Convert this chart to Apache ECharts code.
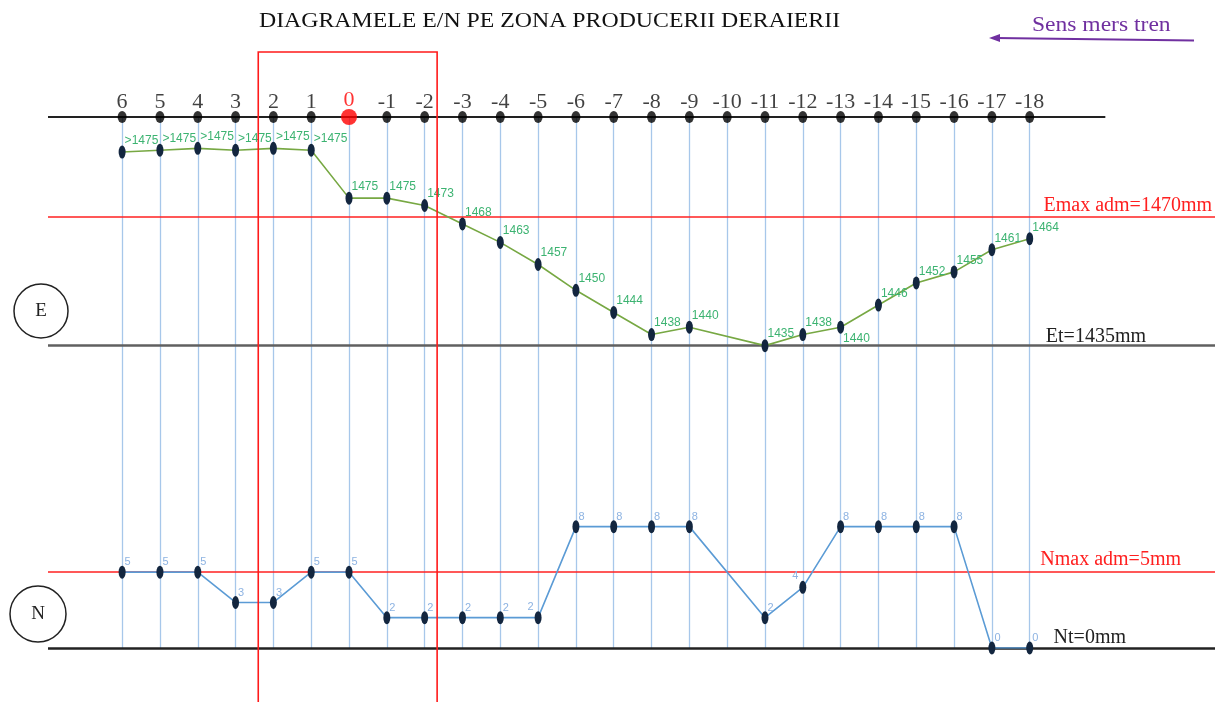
<!DOCTYPE html>
<html>
<head>
<meta charset="utf-8">
<script src="https://cdn.jsdelivr.net/npm/echarts@6/dist/echarts.min.js"></script>
<style>
html,body{margin:0;padding:0;background:#fff;}
#main{width:1227px;height:702px;}
</style>
</head>
<body>
<div id="main"></div>
<script>
// ---- data ----
const stations = ['6','5','4','3','2','1','0','-1','-2','-3','-4','-5','-6','-7','-8','-9','-10','-11','-12','-13','-14','-15','-16','-17','-18'];
// E (gauge, mm); '>1475' points drawn at their estimated height
const eValues = [1487.5,1488,1488.5,1488,1488.5,1488,1475,1475,1473,1468,1463,1457,1450,1444,1438,1440,null,1435,1438,1440,1446,1452,1455,1461,1464];
const eLabels = ['>1475','>1475','>1475','>1475','>1475','>1475','1475','1475','1473','1468','1463','1457','1450','1444','1438','1440','','1435','1438','1440','1446','1452','1455','1461','1464'];
// N (level, mm)
const nValues = [5,5,5,3,3,5,5,2,2,2,2,2,8,8,8,8,null,2,4,8,8,8,8,0,0];
const eMaxAdm = 1470, eNominal = 1435;
const nMaxAdm = 5, nNominal = 0;
const titleText = 'DIAGRAMELE E/N PE ZONA PRODUCERII DERAIERII';
const directionText = 'Sens mers tren';

// ---- chart ----
const chart = echarts.init(document.getElementById('main'));
const serif = '"Liberation Serif", "DejaVu Serif", serif';
const sans = '"Liberation Sans", "DejaVu Sans", sans-serif';
const X_MIN = -1.96, X_MAX = 28.9, E_MIN = 1353, E_MAX = 1497, N_MIN = 0, N_MAX = 35;
const TOP_LINE_END = 26;

const eData = eValues.map((v, i) => {
  const item = { value: [i, v] };
  if (stations[i] === '-13') item.label = { position: [6, 12] };
  return item;
});
const nData = nValues.map((v, i) => {
  const item = { value: [i, v] };
  if (stations[i] === '-12' || stations[i] === '-5') item.label = { position: [-1, -10], align: 'right' };
  return item;
});
const stationData = stations.map((s, i) => {
  const it = { value: [i, E_MAX], name: s };
  if (s === '0') {
    it.symbolSize = 16;
    it.itemStyle = { color: '#ff0000' };
    it.label = { color: '#ff0000' };
  }
  return it;
});

const verticalLines = stations.map((s, i) => ({ xAxis: i }));

const option = {
  backgroundColor: '#ffffff',
  animation: false,
  grid: { left: 48, right: 12, top: 117, bottom: 54 },
  xAxis: { type: 'value', min: X_MIN, max: X_MAX, show: false },
  yAxis: [
    { type: 'value', min: E_MIN, max: E_MAX, show: false },
    { type: 'value', min: N_MIN, max: N_MAX, show: false }
  ],
  series: [
    {
      name: 'stations', type: 'scatter', yAxisIndex: 0, z: 5, clip: false,
      symbol: 'circle', symbolSize: [9, 12],
      itemStyle: { color: '#000' },
      label: { show: true, position: 'top', distance: -2, formatter: p => p.name,
        fontFamily: serif, fontSize: 22, color: '#111' },
      data: stationData,
      markLine: {
        silent: true, symbol: 'none', z: 1,
        label: { show: false },
        lineStyle: { color: '#a7c7ea', width: 1.3, type: 'solid' },
        data: verticalLines.concat([
          [{ coord: [X_MIN, E_MAX], lineStyle: { color: '#222', width: 2 } },
           { coord: [TOP_LINE_END, E_MAX] }]
        ])
      }
    },
    {
      name: 'E', type: 'line', yAxisIndex: 0, z: 4, connectNulls: true,
      symbol: 'circle', symbolSize: [7, 13],
      itemStyle: { color: '#13263f' },
      lineStyle: { color: '#77a843', width: 1.6 },
      label: { show: true, position: [6, -11], formatter: p => eLabels[p.dataIndex],
        fontFamily: sans, fontSize: 12, color: '#3cb371' },
      data: eData,
      markLine: {
        silent: true, symbol: 'none', z: 3,
        data: [
          { yAxis: eMaxAdm, lineStyle: { color: '#ff2020', width: 1.6, type: 'solid' },
            label: { show: true, position: 'insideEndTop', distance: 1, formatter: 'Emax adm=' + eMaxAdm + 'mm',
              fontFamily: serif, fontSize: 20, color: '#ff2020', padding: [0, 2, 0, 0] } },
          { yAxis: eNominal, lineStyle: { color: '#606060', width: 2.5, type: 'solid' },
            label: { show: true, position: 'insideEndTop', distance: -1, formatter: 'Et=' + eNominal + 'mm',
              fontFamily: serif, fontSize: 20, color: '#222', padding: [0, 70, 0, 0] } }
        ]
      }
    },
    {
      name: 'N', type: 'line', yAxisIndex: 1, z: 4, connectNulls: true,
      symbol: 'circle', symbolSize: [7, 13],
      itemStyle: { color: '#13263f' },
      lineStyle: { color: '#5b9bd5', width: 1.6 },
      label: { show: true, position: [6, -9], formatter: p => String(nValues[p.dataIndex]),
        fontFamily: sans, fontSize: 11, color: '#8db3e2' },
      data: nData,
      markLine: {
        silent: true, symbol: 'none', z: 3,
        data: [
          { yAxis: nMaxAdm, lineStyle: { color: '#ff2020', width: 1.6, type: 'solid' },
            label: { show: true, position: 'insideEndTop', distance: 2, formatter: 'Nmax adm=' + nMaxAdm + 'mm',
              fontFamily: serif, fontSize: 20, color: '#ff2020', padding: [0, 32, 0, 0] } },
          { yAxis: nNominal, lineStyle: { color: '#222', width: 2.5, type: 'solid' },
            label: { show: true, position: 'insideEndTop', distance: 0, formatter: 'Nt=' + nNominal + 'mm',
              fontFamily: serif, fontSize: 20, color: '#222', padding: [0, 89, 0, 0] } }
        ]
      }
    }
  ]
};
chart.setOption(option);

// annotations
const pL = chart.convertToPixel({ xAxisIndex: 0, yAxisIndex: 0 }, [3.6, E_MAX]);
const pR = chart.convertToPixel({ xAxisIndex: 0, yAxisIndex: 0 }, [8.33, E_MAX]);
chart.setOption({
  graphic: [
    { type: 'text', left: 259, top: 12, scaleX: 1.19, z: 10,
      style: { text: titleText, font: '20px ' + serif, fill: '#111' } },
    { type: 'text', x: 1032, y: 14, scaleX: 1.07, z: 10,
      style: { text: directionText, font: '22px ' + serif, fill: '#7030a0' } },
    { type: 'polyline', z: 10, shape: { points: [[1194, 40.5], [996, 38]] },
      style: { stroke: '#7030a0', lineWidth: 2, fill: null } },
    { type: 'polygon', z: 10, shape: { points: [[989, 38], [1000, 34], [1000, 42]] },
      style: { fill: '#7030a0' } },
    { type: 'rect', z: 20, shape: { x: pL[0], y: 52, width: pR[0] - pL[0], height: 700 },
      style: { fill: null, stroke: '#ff1a1a', lineWidth: 1.6 } },
    { type: 'circle', z: 10, shape: { cx: 41, cy: 311, r: 27 },
      style: { fill: '#fff', stroke: '#222', lineWidth: 1.5 } },
    { type: 'text', z: 11, x: 41, y: 311,
      style: { text: 'E', font: '19px ' + serif, fill: '#222', textAlign: 'center', textVerticalAlign: 'middle' } },
    { type: 'circle', z: 10, shape: { cx: 38, cy: 614, r: 28 },
      style: { fill: '#fff', stroke: '#222', lineWidth: 1.5 } },
    { type: 'text', z: 11, x: 38, y: 614,
      style: { text: 'N', font: '19px ' + serif, fill: '#222', textAlign: 'center', textVerticalAlign: 'middle' } }
  ]
});
</script>
</body>
</html>
